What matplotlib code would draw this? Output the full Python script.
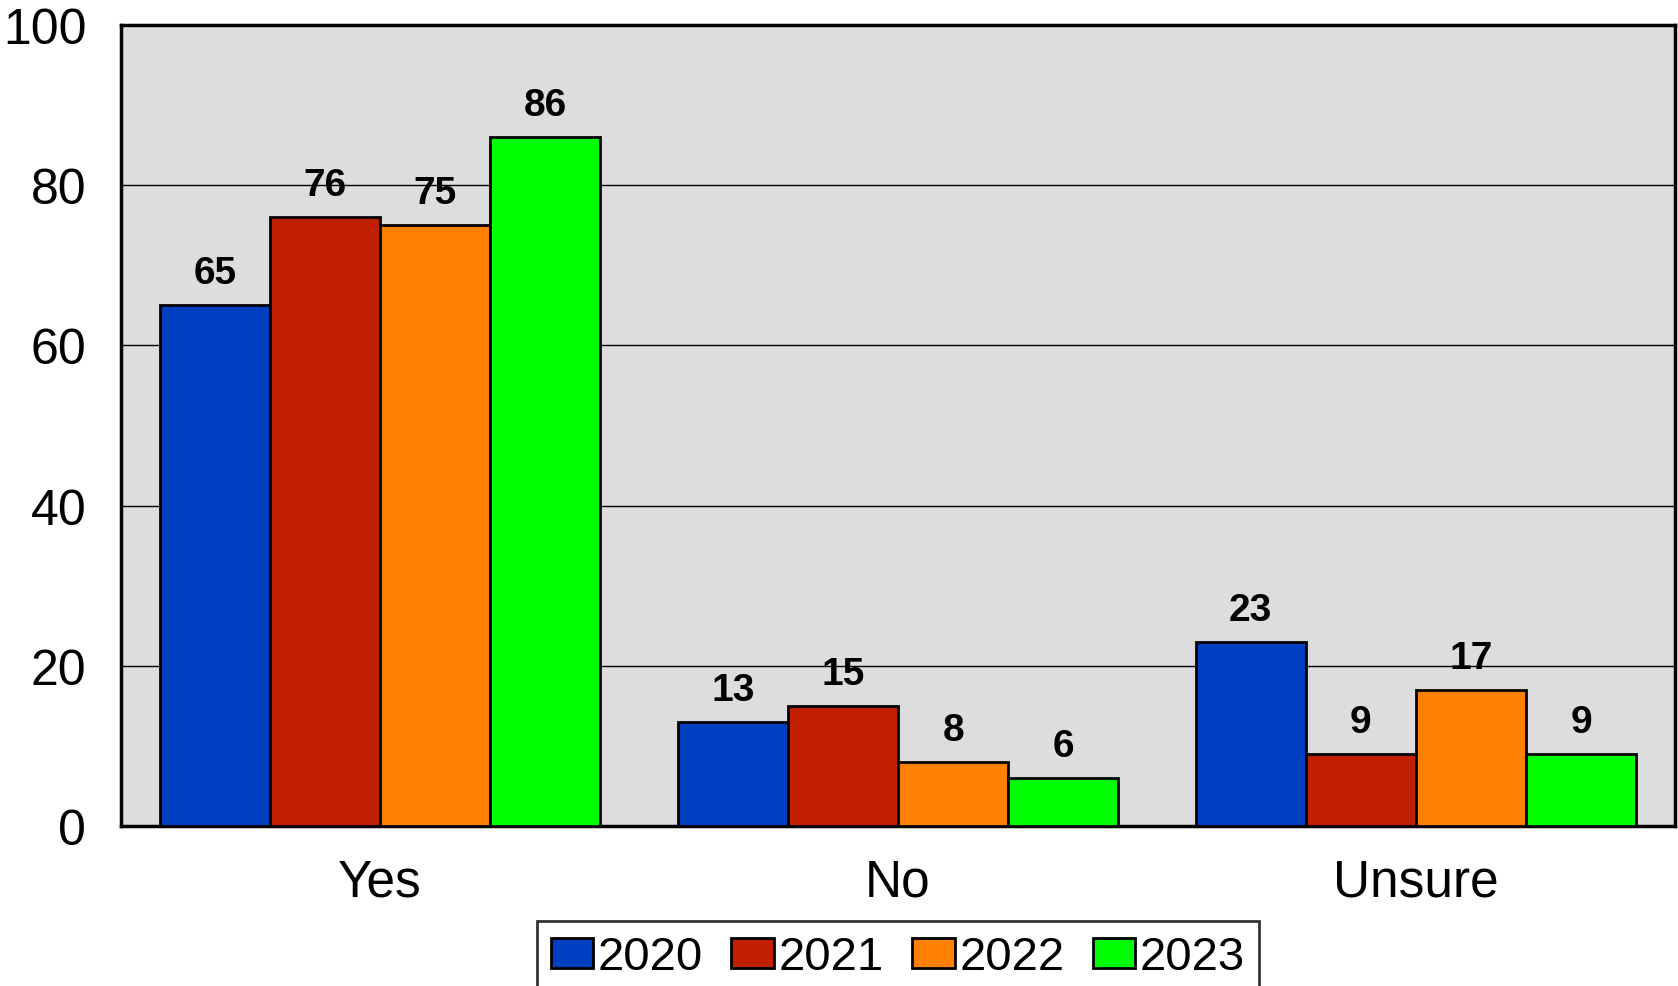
import matplotlib
matplotlib.use("Agg")
import matplotlib.pyplot as plt
import numpy as np

categories = ["Yes", "No", "Unsure"]
years = ["2020", "2021", "2022", "2023"]
values_2020 = [65, 13, 23]
values_2021 = [76, 15, 9]
values_2022 = [75, 8, 17]
values_2023 = [86, 6, 9]
series = [values_2020, values_2021, values_2022, values_2023]
colors = ["#0040C0", "#C02000", "#FF8000", "#00FF00"]
y_ticks = [0, 20, 40, 60, 80, 100]

plt.rcParams["font.family"] = ["Liberation Sans", "DejaVu Sans"]

fig = plt.figure(figsize=(16.78, 9.87), dpi=100)
ax = fig.add_axes([121 / 1678, 1 - 827 / 987, (1675 - 121) / 1678, (827 - 26) / 987])
ax.set_facecolor("#DDDDDD")

x = np.arange(len(categories))
bar_w = 0.2127
offsets = (np.arange(len(years)) - 1.5) * bar_w
for yr, vals, col, off in zip(years, series, colors, offsets):
    bars = ax.bar(x + off, vals, width=bar_w, color=col, edgecolor="black",
                  linewidth=2, label=yr, zorder=3)
    for b, v in zip(bars, vals):
        ax.annotate(str(v), (b.get_x() + b.get_width() / 2, v),
                    xytext=(0, 10), textcoords="offset points",
                    ha="center", va="bottom", fontsize=28, fontweight="bold")

ax.set_xlim(-0.5, len(categories) - 0.5)
ax.set_ylim(0, 100)
ax.set_yticks(y_ticks)
ax.set_yticklabels([str(t) for t in y_ticks], fontsize=36)
ax.set_xticks(x)
ax.set_xticklabels(categories, fontsize=37)
ax.tick_params(axis="both", length=0)
ax.tick_params(axis="x", pad=23)
ax.tick_params(axis="y", pad=25)
ax.yaxis.grid(True, color="black", linewidth=1, zorder=1)
ax.set_axisbelow(True)
for s in ax.spines.values():
    s.set_linewidth(2.5)
    s.set_color("black")

leg = fig.legend(loc="upper center", bbox_to_anchor=(898 / 1678, 1 - 922 / 987),
                 ncol=4, fontsize=34, frameon=True, fancybox=False,
                 handlelength=0.9, handleheight=0.6, handletextpad=0.1,
                 columnspacing=0.6, borderpad=0.3, borderaxespad=0)
leg.get_frame().set_edgecolor("black")
leg.get_frame().set_linewidth(2)

fig.savefig("out.png", dpi=100)
